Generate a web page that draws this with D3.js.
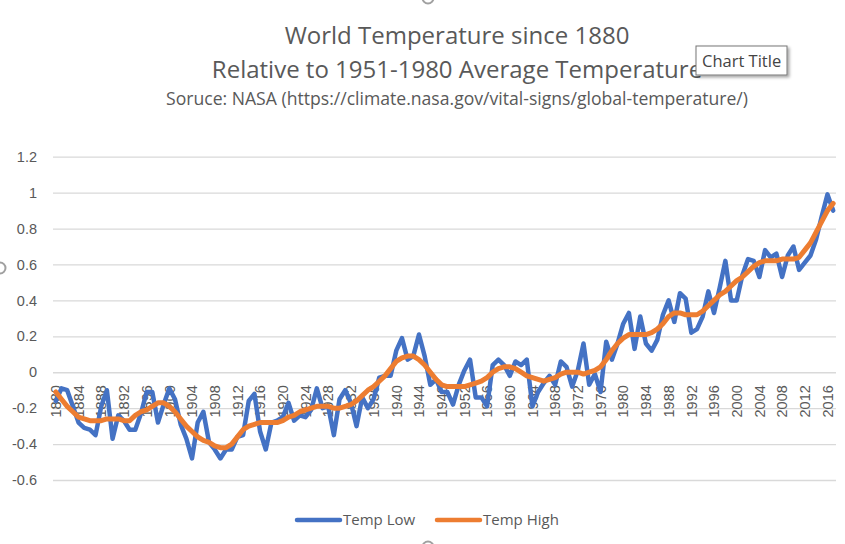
<!DOCTYPE html>
<html>
<head>
<meta charset="utf-8">
<script src="https://cdn.jsdelivr.net/npm/d3@7"></script>
<style>
  body { margin: 0; background: #fff; }
  svg { font-family: "Open Sans", sans-serif; display: block; }
</style>
</head>
<body>
<svg id="chart" width="845" height="544"></svg>
<script>
// NASA GISTEMP annual anomaly (deg C)
var years = d3.range(1880, 2018)

var tempLow = [
  -0.16, -0.09, -0.10, -0.19, -0.28, -0.31, -0.32, -0.35, -0.19, -0.10,
  -0.37, -0.24, -0.27, -0.32, -0.32, -0.23, -0.11, -0.11, -0.28, -0.18,
  -0.09, -0.15, -0.29, -0.37, -0.48, -0.28, -0.22, -0.39, -0.43, -0.48,
  -0.43, -0.43, -0.36, -0.35, -0.16, -0.12, -0.33, -0.43, -0.28, -0.27,
  -0.25, -0.17, -0.27, -0.24, -0.25, -0.21, -0.09, -0.20, -0.19, -0.35,
  -0.15, -0.10, -0.17, -0.30, -0.14, -0.20, -0.15, -0.03, -0.02, -0.02,
  0.12, 0.19, 0.07, 0.09, 0.21, 0.09, -0.07, -0.04, -0.11, -0.11,
  -0.18, -0.07, 0.01, 0.07, -0.14, -0.14, -0.19, 0.04, 0.07, 0.04,
  -0.02, 0.06, 0.04, 0.07, -0.19, -0.11, -0.06, -0.02, -0.07, 0.06,
  0.03, -0.08, 0.01, 0.16, -0.07, -0.01, -0.11, 0.17, 0.07, 0.16,
  0.27, 0.33, 0.13, 0.31, 0.16, 0.12, 0.18, 0.32, 0.40, 0.28,
  0.44, 0.41, 0.22, 0.24, 0.31, 0.45, 0.33, 0.47, 0.62, 0.40,
  0.40, 0.54, 0.63, 0.62, 0.53, 0.68, 0.64, 0.66, 0.53, 0.65,
  0.70, 0.57, 0.61, 0.65, 0.74, 0.87, 0.99, 0.90
]

var tempHigh = [
  -0.11, -0.15, -0.19, -0.22, -0.25, -0.26, -0.27, -0.27, -0.27, -0.26,
  -0.26, -0.26, -0.27, -0.27, -0.24, -0.22, -0.21, -0.19, -0.17, -0.17,
  -0.19, -0.22, -0.26, -0.30, -0.33, -0.36, -0.38, -0.39, -0.41, -0.42,
  -0.42, -0.40, -0.36, -0.32, -0.30, -0.29, -0.28, -0.28, -0.28, -0.28,
  -0.27, -0.25, -0.24, -0.22, -0.21, -0.20, -0.19, -0.19, -0.19, -0.20,
  -0.20, -0.19, -0.18, -0.16, -0.13, -0.10, -0.08, -0.05, -0.02, 0.02,
  0.06, 0.08, 0.09, 0.09, 0.07, 0.04, 0.00, -0.04, -0.07, -0.08,
  -0.08, -0.08, -0.08, -0.07, -0.06, -0.05, -0.03, 0.00, 0.02, 0.03,
  0.03, 0.02, 0.00, -0.02, -0.03, -0.04, -0.05, -0.04, -0.03, -0.01,
  0.00, 0.00, 0.00, -0.01, 0.00, 0.01, 0.03, 0.07, 0.12, 0.16,
  0.19, 0.21, 0.21, 0.21, 0.21, 0.22, 0.24, 0.27, 0.31, 0.33,
  0.33, 0.32, 0.32, 0.32, 0.34, 0.37, 0.40, 0.43, 0.45, 0.48,
  0.51, 0.53, 0.56, 0.59, 0.61, 0.62, 0.62, 0.62, 0.63, 0.63,
  0.63, 0.64, 0.68, 0.72, 0.78, 0.84, 0.90, 0.94
]

var yTicks = [-0.6, -0.4, -0.2, 0, 0.2, 0.4, 0.6, 0.8, 1, 1.2]
var xTickYears = years.filter(function(d) { return (d - 1880) % 4 == 0 })

var seriesNames = ["Temp Low", "Temp High"]
var seriesColors = ["#4472C4", "#ED7D31"]

var svg = d3.select("#chart")

var x = d3.scaleBand().domain(years).range([53, 836])
var y = d3.scaleLinear().domain([-0.6, 1.2]).range([480, 156.7])
function cx(d) { return x(d) + x.bandwidth() / 2 }

// drop shadow for the little tooltip box
var defs = svg.append("defs")
var f = defs.append("filter").attr("id", "shadow").attr("x", "-20%").attr("y", "-20%").attr("width", "150%").attr("height", "160%")
f.append("feDropShadow").attr("dx", 2).attr("dy", 2).attr("stdDeviation", 1.5).attr("flood-color", "#000").attr("flood-opacity", 0.35)

// gridlines + y labels
var yAxis = svg.append("g")
    .attr("transform", "translate(53,0)")
    .call(d3.axisLeft(y).tickValues(yTicks).tickSizeInner(-(836 - 53)).tickSizeOuter(0).tickPadding(16)
        .tickFormat(function(d) { return String(d).replace("\u2212", "-") }))
yAxis.select(".domain").remove()
yAxis.selectAll("line").attr("stroke", "#d9d9d9").attr("stroke-width", 1.3)
yAxis.selectAll("text").attr("fill", "#595959").style("font-size", "14.5px")

// x labels, rotated, hanging under the zero line
var xAxis = svg.append("g")
    .attr("transform", "translate(0," + y(0) + ")")
    .call(d3.axisBottom(x).tickValues(xTickYears).tickSize(0))
xAxis.select(".domain").remove()
xAxis.selectAll("text")
    .attr("transform", "rotate(-90)")
    .attr("text-anchor", "end")
    .attr("x", -13)
    .attr("y", 0)
    .attr("dy", "0.36em")
    .attr("fill", "#595959")
    .style("font-size", "14.5px")

// the two lines
var line = d3.line()
    .x(function(d) { return cx(d[0]) })
    .y(function(d) { return y(d[1]) })

var seriesData = [tempLow, tempHigh]
seriesData.forEach(function(vals, i) {
    svg.append("path")
        .datum(years.map(function(yr, j) { return [yr, vals[j]] }))
        .attr("fill", "none")
        .attr("stroke", seriesColors[i])
        .attr("stroke-width", i == 0 ? 4.5 : 5)
        .attr("stroke-linejoin", "round")
        .attr("stroke-linecap", "round")
        .attr("d", line)
})

// titles
var titles = svg.append("g").attr("fill", "#595959").attr("text-anchor", "middle")
titles.append("text").attr("x", 457).attr("y", 44).style("font-size", "24px").text("World Temperature since 1880")
titles.append("text").attr("x", 457).attr("y", 78).style("font-size", "24px").text("Relative to 1951-1980 Average Temperature")
titles.append("text").attr("x", 457).attr("y", 105).style("font-size", "17.6px").text("Soruce: NASA (https://climate.nasa.gov/vital-signs/global-temperature/)")

// "Chart Title" hover tip
var tip = svg.append("g").attr("transform", "translate(696,46)")
tip.append("rect").attr("width", 91).attr("height", 29).attr("fill", "#fff")
    .attr("stroke", "#767676").attr("stroke-width", 1).attr("filter", "url(#shadow)")
tip.append("text").attr("x", 6).attr("y", 21).attr("fill", "#444").style("font-size", "16.5px").text("Chart Title")

// legend
var legendX = [297, 437]
var legend = svg.append("g")
seriesNames.forEach(function(name, i) {
    var g = legend.append("g").attr("transform", "translate(" + legendX[i] + ",520)")
    g.append("line").attr("x1", 0).attr("x2", 43).attr("stroke", seriesColors[i])
        .attr("stroke-width", 4.5).attr("stroke-linecap", "round")
    g.append("text").attr("x", 46).attr("dy", "0.35em").attr("fill", "#595959")
        .style("font-size", "15px").text(name)
})

// selection handles of the chart frame
var handles = [[0, 268], [428, -2], [428, 547]]
svg.selectAll(".handle").data(handles).enter().append("circle")
    .attr("class", "handle")
    .attr("cx", function(d) { return d[0] })
    .attr("cy", function(d) { return d[1] })
    .attr("r", 5.5)
    .attr("fill", "#fff")
    .attr("stroke", "#a0a0a0")
    .attr("stroke-width", 2)
</script>
</body>
</html>
